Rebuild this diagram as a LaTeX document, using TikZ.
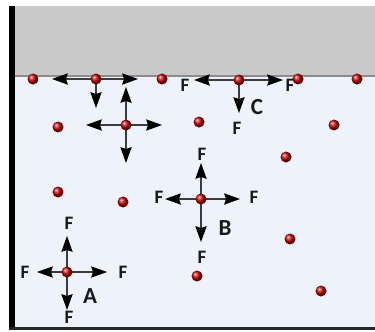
\documentclass[tikz,border=0pt]{standalone}
\usepackage{fontspec}
\setmainfont{Carlito}
\usetikzlibrary{arrows.meta}
\definecolor{liquid}{RGB}{238,243,251}
\definecolor{airgray}{RGB}{201,201,201}
\definecolor{surface}{RGB}{140,140,140}
\definecolor{arrowcol}{RGB}{60,60,60}
\begin{document}
\begin{tikzpicture}[x=1pt,y=-1pt,
  particle/.style={circle, minimum size=11pt, inner sep=0pt, shading=ball, ball color=red!75!black},
  force/.style={draw=arrowcol, line width=1.4pt, -{Stealth[length=16pt,width=11.5pt,inset=2pt,fill=black,line width=0pt]}},
  flabel/.style={font=\bfseries\fontsize{19}{19}\selectfont, inner sep=0pt, text=black!90},
  plabel/.style={font=\bfseries\fontsize{23}{23}\selectfont, inner sep=0pt, text=black!90},
]
\useasboundingbox (0,0) rectangle (375,332);
\fill[white] (0,0) rectangle (375,332);
% liquid body and the air/gas region above it
\fill[liquid] (15,76) rectangle (375,328);
\fill[airgray] (15,6) rectangle (375,76);
\draw[surface, line width=2pt] (15,76) -- (375,76);
% container walls
\fill[black] (9,6) rectangle (15,330);
\draw[black!85, line width=2.2pt] (9,328.5) -- (375,328.5);

% particle centres
\coordinate (c1) at (33,79);
\coordinate (c2) at (96,79);
\coordinate (c3) at (162,79);
\coordinate (cC) at (239,80);
\coordinate (c5) at (298,79);
\coordinate (c6) at (357,79);
\coordinate (c7) at (58,127);
\coordinate (c8) at (126,125);
\coordinate (c9) at (199,122);
\coordinate (c10) at (334,125);
\coordinate (c11) at (286,157);
\coordinate (c12) at (58,192);
\coordinate (c13) at (123,202);
\coordinate (cB) at (201,199);
\coordinate (c15) at (290,239);
\coordinate (cA) at (67,272);
\coordinate (c17) at (197,276);
\coordinate (c18) at (321,291);

% arrow tips
\coordinate (t2l) at (52,79);
\coordinate (t2r) at (138,79);
\coordinate (t2d) at (96,108);
\coordinate (t8u) at (126,87);
\coordinate (t8l) at (86,125);
\coordinate (t8r) at (162,125);
\coordinate (t8d) at (126,163);
\coordinate (tCl) at (194,80);
\coordinate (tCr) at (283,80);
\coordinate (tCd) at (239,113);
\coordinate (tBu) at (201,163);
\coordinate (tBl) at (165,199);
\coordinate (tBr) at (240,199);
\coordinate (tBd) at (201,242);
\coordinate (tAu) at (67,236);
\coordinate (tAl) at (37,272);
\coordinate (tAr) at (107,272);
\coordinate (tAd) at (67,310);

% forces
\draw[force] (c2) -- (t2l);
\draw[force] (c2) -- (t2r);
\draw[force] (c2) -- (t2d);
\draw[force] (c8) -- (t8u);
\draw[force] (c8) -- (t8l);
\draw[force] (c8) -- (t8r);
\draw[force] (c8) -- (t8d);
\draw[force] (cC) -- (tCl);
\draw[force] (cC) -- (tCr);
\draw[force] (cC) -- (tCd);
\draw[force] (cB) -- (tBu);
\draw[force] (cB) -- (tBl);
\draw[force] (cB) -- (tBr);
\draw[force] (cB) -- (tBd);
\draw[force] (cA) -- (tAu);
\draw[force] (cA) -- (tAl);
\draw[force] (cA) -- (tAr);
\draw[force] (cA) -- (tAd);

% particles
\foreach \c in {c1,c2,c3,cC,c5,c6,c7,c8,c9,c10,c11,c12,c13,cB,c15,cA,c17,c18}
  \node[particle] (p\c) at (\c) {};

% labels
\node[flabel] (fCl) at (185,85) {F};
\node[flabel] (fCr) at (290,85) {F};
\node[plabel] (lC) at (257,107) {C};
\node[flabel] (fCd) at (237,128) {F};
\node[flabel] (fBu) at (202,154) {F};
\node[flabel] (fBl) at (159,197) {F};
\node[flabel] (fBr) at (254,197) {F};
\node[plabel] (lB) at (225,228) {B};
\node[flabel] (fBd) at (202,257) {F};
\node[flabel] (fAu) at (69,223) {F};
\node[flabel] (fAl) at (25,272) {F};
\node[flabel] (fAr) at (123,272) {F};
\node[plabel] (lA) at (90,296) {A};
\node[flabel] (fAd) at (69,317) {F};
\end{tikzpicture}
\end{document}
